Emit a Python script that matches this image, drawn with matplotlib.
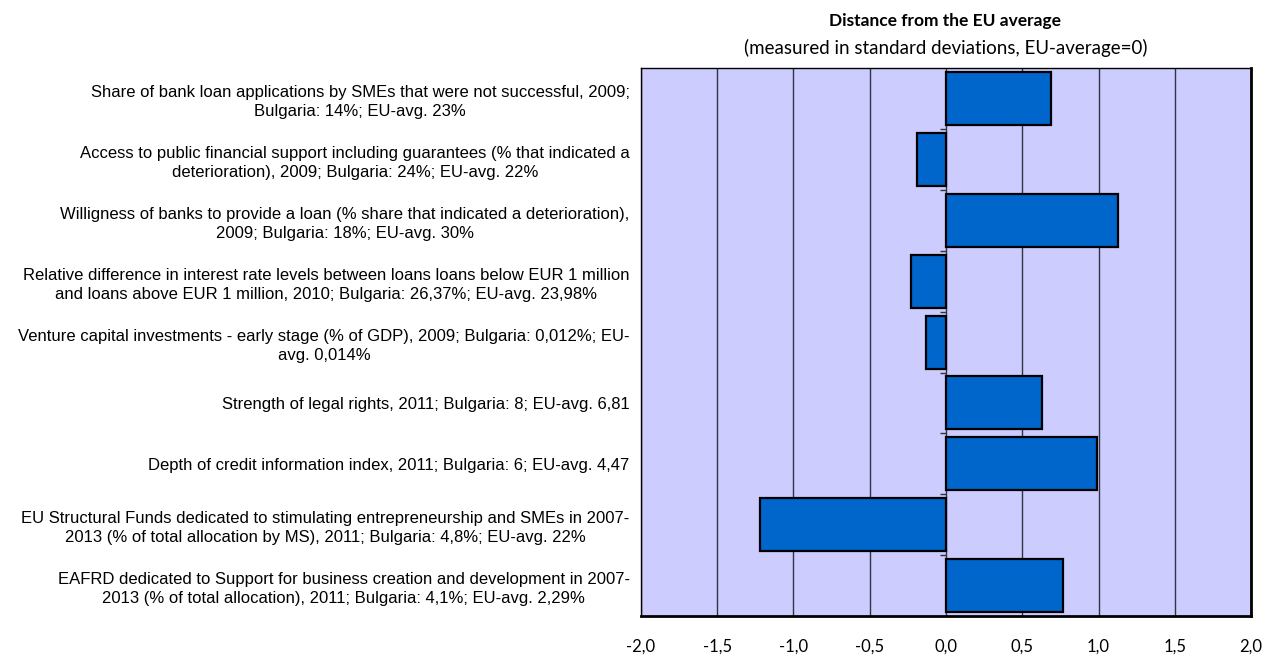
import numpy as np
import matplotlib.pyplot as plt

# Indicators (top to bottom) and distance from EU average in standard deviations
indicators = [
    "Share of bank loan applications by SMEs that were not successful, 2009;\nBulgaria: 14%; EU-avg. 23%",
    "Access to public financial support including guarantees (% that indicated a\ndeterioration), 2009; Bulgaria: 24%; EU-avg. 22%",
    "Willigness of banks to provide a loan (% share that indicated a deterioration),\n2009; Bulgaria: 18%; EU-avg. 30%",
    "Relative difference in interest rate levels between loans loans below EUR 1 million\nand loans above EUR 1 million, 2010; Bulgaria: 26,37%; EU-avg. 23,98%",
    "Venture capital investments - early stage (% of GDP), 2009; Bulgaria: 0,012%; EU-\navg. 0,014%",
    "Strength of legal rights, 2011; Bulgaria: 8; EU-avg. 6,81",
    "Depth of credit information index, 2011; Bulgaria: 6; EU-avg. 4,47",
    "EU Structural Funds dedicated to stimulating entrepreneurship and SMEs in 2007-\n2013 (% of total allocation by MS), 2011; Bulgaria: 4,8%; EU-avg. 22%",
    "EAFRD dedicated to Support for business creation and development in 2007-\n2013 (% of total allocation), 2011; Bulgaria: 4,1%; EU-avg. 2,29%",
]
distance = [0.69, -0.19, 1.125, -0.226, -0.128, 0.63, 0.987, -1.218, 0.77]
x_ticks = [-2.0, -1.5, -1.0, -0.5, 0.0, 0.5, 1.0, 1.5, 2.0]

label_font = "Liberation Sans"
head_font = "Lato"

fig = plt.figure(figsize=(12.74, 6.6), dpi=100)
ax = fig.add_axes([0.503, 0.0667, 0.479, 0.830])

y = np.arange(len(indicators))
ax.barh(y, distance, height=0.87, color="#0066CC", edgecolor="black",
        linewidth=1.6, zorder=3)

ax.set_facecolor("#CCCCFF")
ax.set_xlim(-2, 2)
ax.set_ylim(len(indicators) - 0.5, -0.5)
ax.set_xticks(x_ticks)
ax.set_xticklabels([f"{v:.1f}".replace(".", ",") for v in x_ticks],
                   fontfamily=head_font, fontsize=12)
ax.tick_params(axis="x", length=0, pad=16)
ax.grid(axis="x", color="#333344", linewidth=1.0, zorder=1)

# small ticks on the zero line between categories
bounds = np.arange(len(indicators) + 1) - 0.5
ax.hlines(bounds[1:-1], -0.04, 0, color="#333333", linewidth=1.0, zorder=2)

ax.set_yticks(y)
ax.set_yticklabels(indicators, fontfamily=label_font, fontsize=12)
ax.tick_params(axis="y", length=0, pad=8)
for lbl in ax.get_yticklabels():
    lbl.set_multialignment("center")
    lbl.set_linespacing(1.35)

for side in ["left", "top"]:
    ax.spines[side].set_linewidth(1.0)
for side in ["right", "bottom"]:
    ax.spines[side].set_linewidth(2.0)

fig.text(0.742, 0.968, "Distance from the EU average", ha="center", va="center",
         fontfamily=head_font, fontweight="bold", fontsize=12.5)
fig.text(0.742, 0.927, "(measured in standard deviations, EU-average=0)",
         ha="center", va="center", fontfamily=head_font, fontsize=13.5)

fig.savefig("out.png", dpi=100, facecolor="white")
